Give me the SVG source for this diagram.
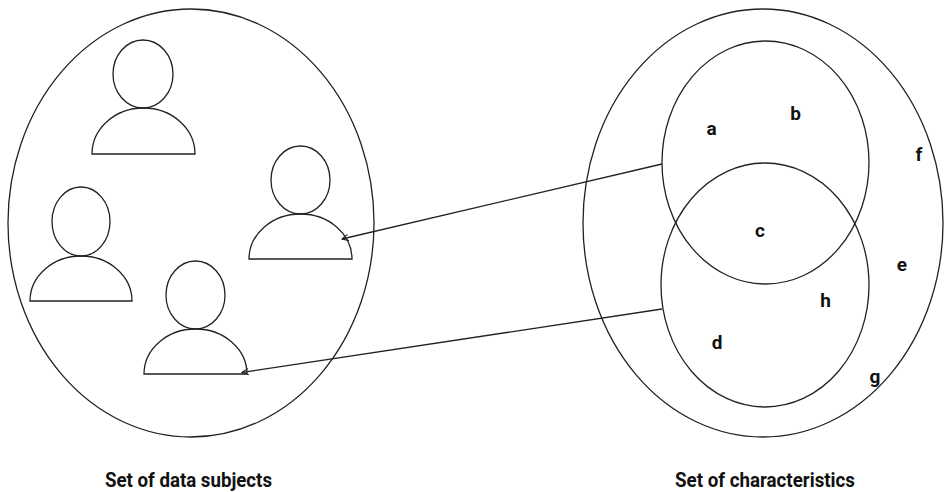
<svg xmlns="http://www.w3.org/2000/svg" width="944" height="492" viewBox="0 0 944 492">
<defs>
<style>
.s{fill:none;stroke:#222;stroke-width:1.3}
.b{fill:none;stroke:#222;stroke-width:1.3}
.l{font-family:Roboto,"Liberation Sans",sans-serif;font-weight:bold;font-size:19px;fill:#111;text-anchor:middle}
.t{font-family:Roboto,"Liberation Sans",sans-serif;font-weight:bold;font-size:19.5px;fill:#111}
</style>
<marker id="ah" viewBox="0 0 10 10" refX="9" refY="5" markerWidth="8" markerHeight="8" orient="auto" markerUnits="userSpaceOnUse">
<path d="M1,1 L9,5 L1,9" fill="none" stroke="#222" stroke-width="1.4"/>
</marker>
</defs>
<rect width="944" height="492" fill="#fff"/>
<g id="subjects">
<ellipse class="s" cx="191" cy="223" rx="183" ry="214"/>
<text class="t" x="105" y="486.5" textLength="167" lengthAdjust="spacingAndGlyphs">Set of data subjects</text>
</g>
<g id="person1">
<ellipse class="s" cx="143" cy="74" rx="30" ry="34"/>
<path class="b" d="M92,154 A51.5,46 0 0 1 195,154 Z"/>
</g>
<g id="person2">
<ellipse class="s" cx="300.5" cy="180" rx="29.5" ry="34"/>
<path class="b" d="M249,259 A51.5,45 0 0 1 352,259 Z"/>
</g>
<g id="person3">
<ellipse class="s" cx="81" cy="221.5" rx="29" ry="34.5"/>
<path class="b" d="M30,301 A51,45 0 0 1 132,301 Z"/>
</g>
<g id="person4">
<ellipse class="s" cx="195.5" cy="295" rx="29.5" ry="34"/>
<path class="b" d="M144,374 A51.5,45 0 0 1 247,374 Z"/>
</g>
<g id="characteristics">
<ellipse class="s" cx="763" cy="223" rx="180" ry="214"/>
<text class="t" x="675" y="486.5" textLength="180" lengthAdjust="spacingAndGlyphs">Set of characteristics</text>
</g>
<g id="setA">
<ellipse class="s" cx="765.5" cy="162.5" rx="103.5" ry="121.5"/>
</g>
<g id="setB">
<ellipse class="s" cx="765" cy="285" rx="104" ry="122"/>
</g>
<g id="elements">
<text class="l" x="711.5" y="134.5">a</text>
<text class="l" x="795.5" y="119.5">b</text>
<text class="l" x="919" y="160.5">f</text>
<text class="l" x="760" y="237">c</text>
<text class="l" x="902" y="270.5">e</text>
<text class="l" x="825.5" y="307">h</text>
<text class="l" x="717" y="348.5">d</text>
<text class="l" x="875" y="383">g</text>
</g>
<g id="connectors">
<line class="s" x1="662" y1="164" x2="342" y2="239" marker-end="url(#ah)"/>
<line class="s" x1="662" y1="309" x2="242" y2="372.5" marker-end="url(#ah)"/>
</g>
</svg>
